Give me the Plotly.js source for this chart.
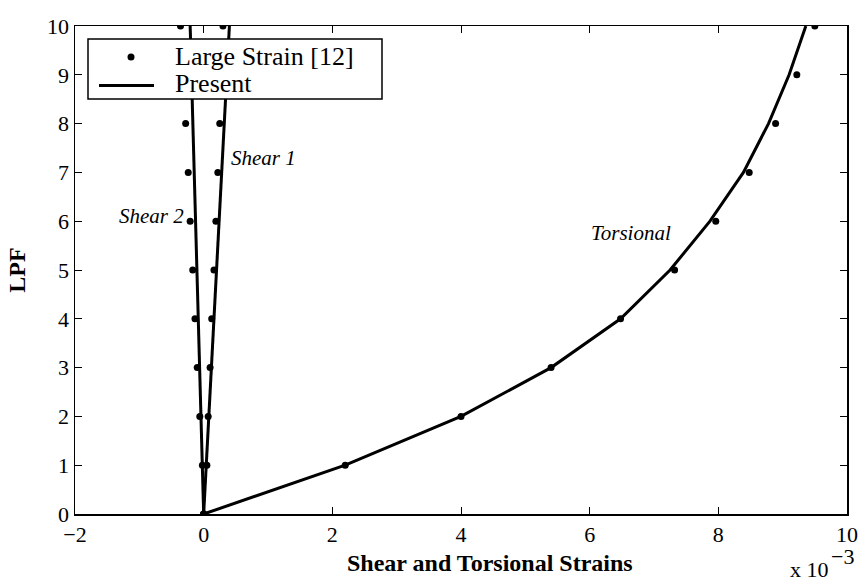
<!DOCTYPE html>
<html>
<head>
<meta charset="utf-8">
<script src="https://cdn.plot.ly/plotly-3.0.1.min.js"></script>
<style>html,body{margin:0;padding:0;background:#fff;}#chart{width:865px;height:581px;}</style>
</head>
<body>
<div id="chart"></div>
<script>
// Load proportionality factor levels
var lpf = [0, 1, 2, 3, 4, 5, 6, 7, 8, 9, 10];

// Large Strain [12] reference results (strain x 10^-3)
var largeTorsional = [0, 2.2, 4.0, 5.4, 6.48, 7.32, 7.96, 8.48, 8.89, 9.22, 9.5];
var largeShear1 = [0, 0.05, 0.07, 0.10, 0.125, 0.16, 0.19, 0.22, 0.25, 0.27, 0.30];
var largeShear2 = [0, -0.02, -0.06, -0.10, -0.135, -0.17, -0.21, -0.24, -0.28, -0.32, -0.36];

// Present results (strain x 10^-3)
var presentTorsional = [0, 2.2, 4.0, 5.4, 6.48, 7.25, 7.87, 8.39, 8.78, 9.10, 9.36];
var presentShear1 = [0, 0.04, 0.08, 0.12, 0.16, 0.20, 0.24, 0.28, 0.32, 0.36, 0.40];
var presentShear2 = [0, -0.021, -0.042, -0.063, -0.084, -0.105, -0.126, -0.147, -0.168, -0.189, -0.21];

var xTicks = [-2, 0, 2, 4, 6, 8, 10];
var yTicks = [0, 1, 2, 3, 4, 5, 6, 7, 8, 9, 10];
var legendLabels = ['Large Strain [12]', 'Present'];

var serif = 'Liberation Serif, Times New Roman, serif';
var mk = {color: '#000', size: 7};
var ln = {color: '#000', width: 3};

var traces = [
  {x: largeTorsional, y: lpf, mode: 'markers', type: 'scatter', name: legendLabels[0], marker: mk, showlegend: false},
  {x: largeShear1, y: lpf, mode: 'markers', type: 'scatter', name: legendLabels[0], marker: mk, showlegend: false},
  {x: largeShear2, y: lpf, mode: 'markers', type: 'scatter', name: legendLabels[0], marker: mk, showlegend: false},
  {x: presentTorsional, y: lpf, mode: 'lines', type: 'scatter', name: legendLabels[1], line: ln, showlegend: false},
  {x: presentShear1, y: lpf, mode: 'lines', type: 'scatter', name: legendLabels[1], line: ln, showlegend: false},
  {x: presentShear2, y: lpf, mode: 'lines', type: 'scatter', name: legendLabels[1], line: ln, showlegend: false}
];

// legend box geometry in paper fractions (plot area: 772 x 488 px)
function px(v){ return (v - 75) / 772; }
function py(v){ return (514 - v) / 488; }

var layout = {
  width: 865, height: 581,
  margin: {l: 75, r: 18, t: 26, b: 67},
  paper_bgcolor: '#fff', plot_bgcolor: '#fff',
  font: {family: serif, color: '#000', size: 22},
  showlegend: false,
  xaxis: {
    range: [-2, 10], tickvals: xTicks, ticktext: xTicks.map(function(v){return v < 0 ? '\u2212' + Math.abs(v) : String(v);}),
    ticks: 'inside', ticklen: 7, tickwidth: 1, tickcolor: '#000',
    showline: true, linecolor: '#000', linewidth: 1.5, mirror: 'ticks',
    showgrid: false, zeroline: false,
    tickfont: {family: serif, size: 22, color: '#000'}
  },
  yaxis: {
    range: [0, 10], tickvals: yTicks,
    ticks: 'inside', ticklen: 7, tickwidth: 1, tickcolor: '#000',
    showline: true, linecolor: '#000', linewidth: 1.5, mirror: 'ticks',
    showgrid: false, zeroline: false,
    tickfont: {family: serif, size: 22, color: '#000'},
    title: {text: '<b>LPF</b>', font: {family: serif, size: 24, color: '#000'}, standoff: 14}
  },
  shapes: [
    {type: 'rect', xref: 'paper', yref: 'paper', x0: px(88), x1: px(382), y0: py(99), y1: py(39),
     fillcolor: '#fff', line: {color: '#000', width: 1.5}, layer: 'above'},
    {type: 'circle', xref: 'paper', yref: 'paper', x0: px(127.5), x1: px(134.5), y0: py(60.5), y1: py(53.5),
     fillcolor: '#000', line: {color: '#000', width: 0}, layer: 'above'},
    {type: 'line', xref: 'paper', yref: 'paper', x0: px(99), x1: px(154), y0: py(85.5), y1: py(85.5),
     line: {color: '#000', width: 3}, layer: 'above'}
  ],
  annotations: [
    {xref: 'paper', yref: 'paper', x: px(173), y: py(57), xanchor: 'left', yanchor: 'middle', showarrow: false,
     text: legendLabels[0], font: {family: serif, size: 26, color: '#000'}},
    {xref: 'paper', yref: 'paper', x: px(173), y: py(83), xanchor: 'left', yanchor: 'middle', showarrow: false,
     text: legendLabels[1], font: {family: serif, size: 26, color: '#000'}},
    {xref: 'paper', yref: 'paper', x: px(490), y: py(563), xanchor: 'center', yanchor: 'middle', showarrow: false,
     text: '<b>Shear and Torsional Strains</b>', font: {family: serif, size: 24, color: '#000'}},
    {xref: 'paper', yref: 'paper', x: px(831), y: py(569), xanchor: 'right', yanchor: 'middle', showarrow: false,
     text: 'x 10', font: {family: serif, size: 22, color: '#000'}},
    {xref: 'paper', yref: 'paper', x: px(829), y: py(556), xanchor: 'left', yanchor: 'middle', showarrow: false,
     text: '\u22123', font: {family: serif, size: 22, color: '#000'}},
    {xref: 'x', yref: 'y', x: 0.39, y: 7.3, xanchor: 'left', yanchor: 'middle', showarrow: false,
     text: '<i>Shear 1</i>', font: {family: serif, size: 21, color: '#000'}},
    {xref: 'x', yref: 'y', x: -0.28, y: 6.1, xanchor: 'right', yanchor: 'middle', showarrow: false,
     text: '<i>Shear 2</i>', font: {family: serif, size: 21, color: '#000'}},
    {xref: 'x', yref: 'y', x: 6.65, y: 5.75, xanchor: 'center', yanchor: 'middle', showarrow: false,
     text: '<i>Torsional</i>', font: {family: serif, size: 21, color: '#000'}}
  ]
};

Plotly.newPlot('chart', traces, layout, {displayModeBar: false, staticPlot: true});
</script>
</body>
</html>
